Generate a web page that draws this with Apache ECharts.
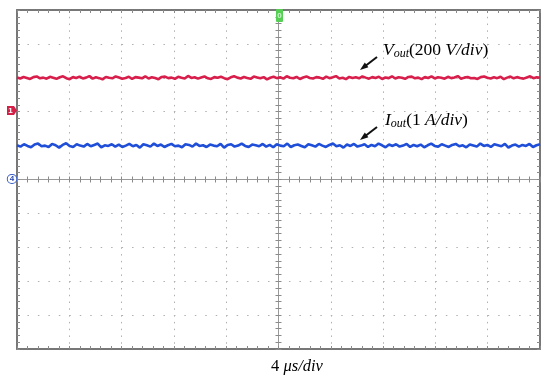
<!DOCTYPE html>
<html><head><meta charset="utf-8">
<script src="https://cdn.jsdelivr.net/npm/echarts@6/dist/echarts.min.js"></script>
<style>html,body{margin:0;padding:0;background:#fff}#c{width:550px;height:382px}</style>
</head><body><div id="c"></div>
<script>
// Time base: 4 µs/div, 10 divisions, trigger at centre
const timeRangeUs = [-20, 20];
const timePerDivUs = 4;
// Vertical: 10 divisions; Vout 200 V/div (ground marker 2 div above centre), Iout 1 A/div (ground at centre)
const voutScale = { perDiv: 200, groundDiv: 2 };
const ioutScale = { perDiv: 1, groundDiv: 0 };

const voutV = [
202,196,205,199,193,204,208,197,201,195,206,200,194,203,209,198,192,204,199,207,196,201,210,195,203,198,191,205,200,197,208,202,194,199,206,193,204,201,197,209,
196,203,199,192,205,207,198,201,194,206,200,196,211,199,203,195,202,208,197,193,204,200,206,198,192,203,209,201,196,205,199,194,207,202,197,204,191,200,206,198,
203,195,209,200,197,205,193,202,208,199,196,204,201,194,207,198,203,210,196,200,192,205,199,203,197,208,201,195,204,199,206,193,202,198,209,196,203,200,194,205,
207,197,201,192,204,199,208,196,203,200,195,206,198,202,210,194,201,205,197,199,193,204,208,200,196,203,198,206,192,201,207,197,204,199,195,202,209,198,203,200
];
const ioutA = [
1.01,0.97,1.04,0.99,0.95,1.03,1.06,0.98,1.00,0.96,1.05,1.01,0.94,1.02,1.07,0.99,0.96,1.04,1.00,0.97,1.05,0.98,1.02,1.06,0.95,1.01,0.99,1.04,0.97,1.03,0.96,1.00,1.05,0.98,1.02,0.94,1.04,1.01,0.97,1.06,
0.99,1.03,0.96,1.01,1.05,0.98,1.00,0.95,1.04,1.02,0.97,1.06,0.99,1.01,0.96,1.03,1.00,0.98,1.05,0.94,1.02,1.04,0.97,1.00,1.06,0.99,0.96,1.03,1.01,0.98,
1.05,0.97,1.02,0.95,1.04,1.00,0.98,1.06,0.96,1.01,1.03,0.99,0.95,1.04,1.01,0.97,1.05,1.00,0.96,1.02,1.06,0.98,1.01,0.94,1.03,0.99,1.05,0.97,1.00,1.04,
0.96,1.02,0.98,1.06,1.01,0.95,1.03,0.99,1.04,0.97,1.00,1.05,0.96,1.02,0.98,1.03,0.95,1.01,1.06,0.99,0.97,1.04,1.00,0.96,1.02,1.05,0.98,1.01,0.95,1.03,
1.00,0.97,1.06,0.99,1.02,0.96,1.04,1.01,0.98,1.05,0.94,1.00,1.03,0.97,1.02,0.99,1.05,0.96,1.01,1.04
];
const voutText = '{i|V}{s|out}{n|(200 }{i|V/div}{n|)}';
const ioutText = '{i|I}{s|out}{n|(1 }{i|A/div}{n|)}';
const timeText = '{n|4 }{i|\u03bcs/div}';

const chart = echarts.init(document.getElementById('c'), null, {renderer: 'canvas'});
const toSeries = arr => arr.map((v, i) => [timeRangeUs[0] + (timeRangeUs[1] - timeRangeUs[0]) * i / (arr.length - 1), v]);

const tickCol = '#8a8a8a';
function xAx(pos, edge, extra) {
  return Object.assign({
    type: 'value', min: timeRangeUs[0], max: timeRangeUs[1], interval: timePerDivUs, position: pos,
    axisLine: edge ? {show: true, onZero: false, lineStyle: {color: '#777', width: 2}}
                   : {show: true, onZero: true, onZeroAxisIndex: 0, lineStyle: {color: '#999', width: 1}},
    axisTick: {show: true, inside: edge, length: 3, lineStyle: {color: tickCol}},
    minorTick: {show: true, splitNumber: 5, length: 3, lineStyle: {color: tickCol}},
    axisLabel: {show: false}, splitLine: {show: false}
  }, extra || {});
}
function yAx(pos, edge, extra) {
  return Object.assign({
    type: 'value', min: -5, max: 5, interval: 1, position: pos,
    axisLine: edge ? {show: true, onZero: false, lineStyle: {color: '#777', width: 2}}
                   : {show: true, onZero: true, onZeroAxisIndex: 0, lineStyle: {color: '#999', width: 1}},
    axisTick: {show: true, inside: edge, length: 3, lineStyle: {color: tickCol}},
    minorTick: {show: true, splitNumber: 5, length: 3, lineStyle: {color: tickCol}},
    axisLabel: {show: false}, splitLine: {show: false}
  }, extra || {});
}
const vMin = (-5 - voutScale.groundDiv) * voutScale.perDiv, vMax = (5 - voutScale.groundDiv) * voutScale.perDiv;
const iMin = (-5 - ioutScale.groundDiv) * ioutScale.perDiv, iMax = (5 - ioutScale.groundDiv) * ioutScale.perDiv;

const serif = "'Liberation Serif', 'DejaVu Serif', serif";
const rich17 = {
  i: {fontFamily: serif, fontStyle: 'italic', fontSize: 17.5, lineHeight: 20, verticalAlign: 'middle', color: '#222'},
  n: {fontFamily: serif, fontSize: 17.5, lineHeight: 20, verticalAlign: 'middle', color: '#222'},
  s: {fontFamily: serif, fontStyle: 'italic', fontSize: 12, lineHeight: 9, verticalAlign: 'bottom', color: '#222'}
};

chart.setOption({
  animation: false,
  backgroundColor: '#fff',
  grid: {left: 17, top: 10, width: 523, height: 339, show: false, containLabel: false, outerBoundsMode: 'none'},
  xAxis: [
    xAx('bottom', true, {splitLine: {show: true, lineStyle: {color: '#b0b0b0', width: 1, type: [1.5, 5.28]}}}),
    xAx('top', true),
    xAx('bottom', false),
    xAx('top', false)
  ],
  yAxis: [
    yAx('left', true, {splitLine: {show: true, lineStyle: {color: '#b0b0b0', width: 1, type: [1.5, 8.96]}}}),
    {type: 'value', min: vMin, max: vMax, interval: voutScale.perDiv, show: false},
    {type: 'value', min: iMin, max: iMax, interval: ioutScale.perDiv, show: false},
    yAx('right', true),
    yAx('left', false),
    yAx('right', false)
  ],
  series: [
    {name: 'Vout', type: 'line', xAxisIndex: 0, yAxisIndex: 1, data: toSeries(voutV), showSymbol: false,
     lineStyle: {color: '#d81e4b', width: 2.6}, itemStyle: {color: '#d81e4b'}, z: 5},
    {name: 'Iout', type: 'line', xAxisIndex: 0, yAxisIndex: 2, data: toSeries(ioutA), showSymbol: false,
     lineStyle: {color: '#1f4ed8', width: 2.6}, itemStyle: {color: '#1f4ed8'}, z: 5}
  ],
  graphic: [
    {type: 'text', x: 383, y: 40, z: 10, style: {text: voutText, rich: rich17}},
    {type: 'text', x: 385, y: 110, z: 10, style: {text: ioutText, rich: rich17}},
    {type: 'text', x: 297, y: 357, z: 10, style: {text: timeText, align: 'center', rich: {
      i: {fontFamily: serif, fontStyle: 'italic', fontSize: 16.5, lineHeight: 20, color: '#222'},
      n: {fontFamily: serif, fontSize: 16.5, lineHeight: 20, color: '#222'}}}},
    {type: 'line', z: 10, shape: {x1: 377, y1: 57, x2: 364, y2: 67}, style: {stroke: '#111', lineWidth: 2}},
    {type: 'polygon', z: 10, shape: {points: [[360, 70], [368.4, 67.2], [364.8, 62.4]]}, style: {fill: '#111'}},
    {type: 'line', z: 10, shape: {x1: 377, y1: 127, x2: 364, y2: 137}, style: {stroke: '#111', lineWidth: 2}},
    {type: 'polygon', z: 10, shape: {points: [[360, 140], [368.4, 137.2], [364.8, 132.4]]}, style: {fill: '#111'}},
    // channel 1 ground marker
    {type: 'polygon', z: 10, shape: {points: [[7, 106], [14, 106], [17, 110.5], [14, 115], [7, 115]]}, style: {fill: '#d41f46'}},
    {type: 'text', z: 11, x: 10.5, y: 110.5, style: {text: '1', fill: '#fff', font: 'bold 8px sans-serif', align: 'center', verticalAlign: 'middle'}},
    // channel 4 ground marker
    {type: 'text', z: 11, x: 12, y: 179, style: {text: '4', fill: '#2a48b0', font: 'bold 8px sans-serif', align: 'center', verticalAlign: 'middle',
      backgroundColor: '#fff', borderColor: '#3a5ec8', borderWidth: 1, borderRadius: 4, padding: [0, 2]}},
    // trigger marker
    {type: 'rect', z: 10, shape: {x: 276, y: 9, width: 7, height: 13, r: 1}, style: {fill: '#55d055'}},
    {type: 'text', z: 11, x: 279.5, y: 16, style: {text: '0', fill: '#c8f5c8', font: 'bold 8px sans-serif', align: 'center', verticalAlign: 'middle'}}
  ]
});
</script>
</body></html>
